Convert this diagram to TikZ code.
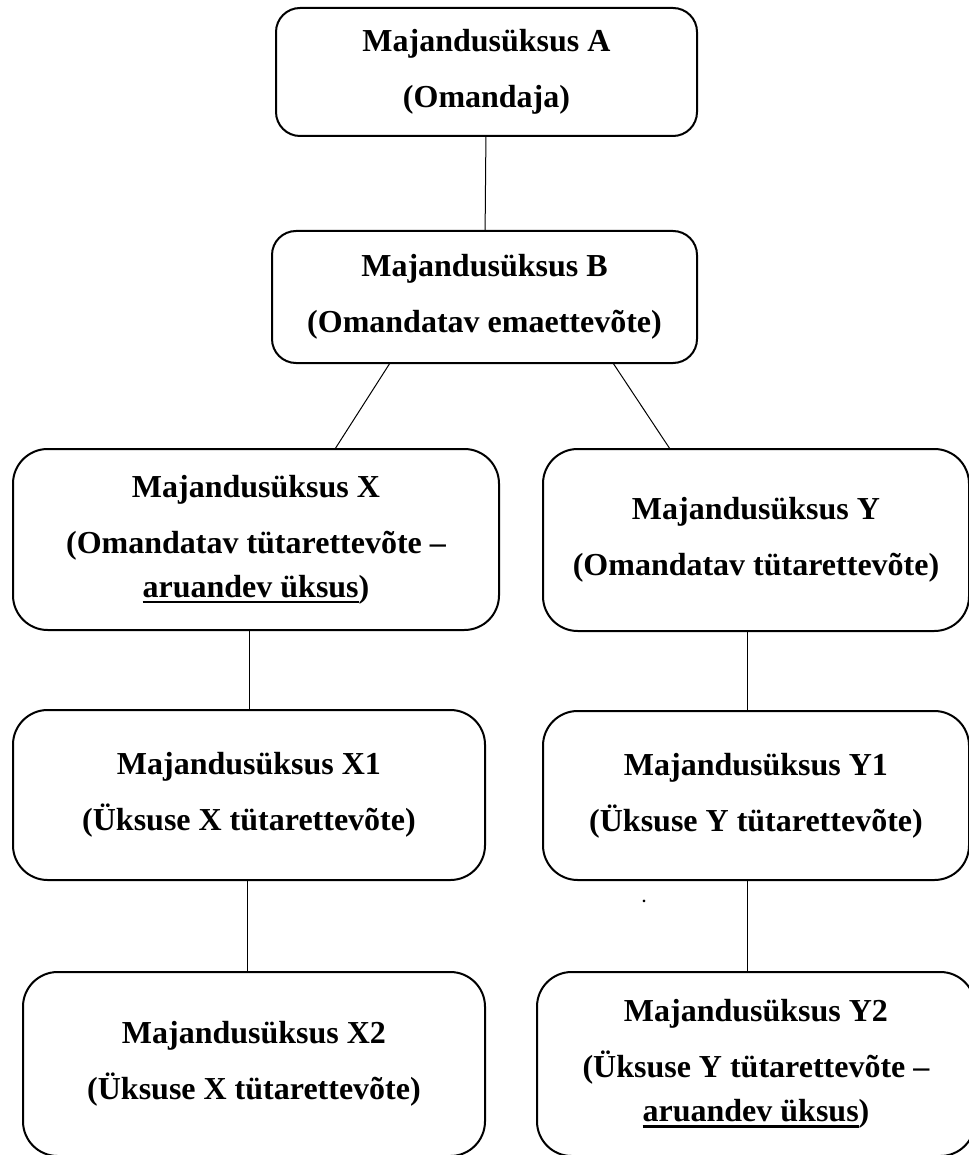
\documentclass[tikz,border=0pt]{standalone}
\usepackage{fontspec}
\setmainfont{Liberation Serif}
\usetikzlibrary{positioning,calc}
\newsavebox{\ulbox}
\newcommand{\thickul}[1]{\sbox{\ulbox}{#1}\rlap{\rule[-4.5pt]{\wd\ulbox}{1.8pt}}\usebox{\ulbox}}

\begin{document}
\begin{tikzpicture}[
    x=0.75pt, y=-0.75pt,
    owner/.style={
        draw,
        line width=1.5pt,
        rounded corners=18pt,
        align=center,
        outer sep=0pt,
        font=\bfseries\fontsize{24}{33}\selectfont
    },
    entity/.style={
        owner,
        rounded corners=26pt
    },
    link/.style={line width=0.75pt}
]
\useasboundingbox (0,0) rectangle (968,1155);

\node[owner, minimum width=315.75pt, minimum height=96pt] (A) at (486.5,72)
    {Majandusüksus A\\[9pt](Omandaja)};
\node[owner, minimum width=318.75pt, minimum height=99pt, below=71.25pt of A, xshift=-1.5pt] (B)
    {Majandusüksus B\\[9pt](Omandatav emaettevõte)};

\node[entity, minimum width=364.5pt, minimum height=135.75pt] (X) at (256,539.5)
    {Majandusüksus X\\[9pt](Omandatav tütarettevõte –\\\thickul{aruandev üksus})};
\node[entity, minimum width=319.5pt, minimum height=136.5pt] (Y) at (756,540)
    {Majandusüksus Y\\[9pt](Omandatav tütarettevõte)};

\node[entity, minimum width=354pt, minimum height=127.5pt, below=60pt of X, xshift=-5.25pt] (X1)
    {Majandusüksus X1\\[9pt](Üksuse X tütarettevõte)};
\node[entity, minimum width=319.5pt, minimum height=126.75pt, below=60pt of Y] (Y1)
    {Majandusüksus Y1\\[9pt](Üksuse Y tütarettevõte)};

\node[entity, minimum width=346.5pt, minimum height=138pt, below=69pt of X1, xshift=3.75pt] (X2)
    {Majandusüksus X2\\[9pt](Üksuse X tütarettevõte)};
\node[entity, minimum width=328.5pt, minimum height=138pt, below=69pt of Y1] (Y2)
    {Majandusüksus Y2\\[9pt](Üksuse Y tütarettevõte –\\\thickul{aruandev üksus})};

\node[inner sep=0pt, font=\bfseries\fontsize{12}{14}\selectfont] (stray) at (644,901) {.};

\draw[link] (A) -- (B);
\draw[link] ($(B.south)+(-94.5,0)$) -- ($(X.north)+(79,0)$);
\draw[link] ($(B.south)+(128.5,0)$) -- ($(Y.north)+(-86,0)$);
\draw[link] (X.south -| X1.north) -- (X1.north);
\draw[link] ($(Y.south)+(-9,0)$) -- ($(Y1.north)+(-9,0)$);
\draw[link] ($(X1.south)+(-2,0)$) -- ($(X2.north)+(-7,0)$);
\draw[link] ($(Y1.south)+(-9,0)$) -- ($(Y2.north)+(-9,0)$);

\end{tikzpicture}
\end{document}
